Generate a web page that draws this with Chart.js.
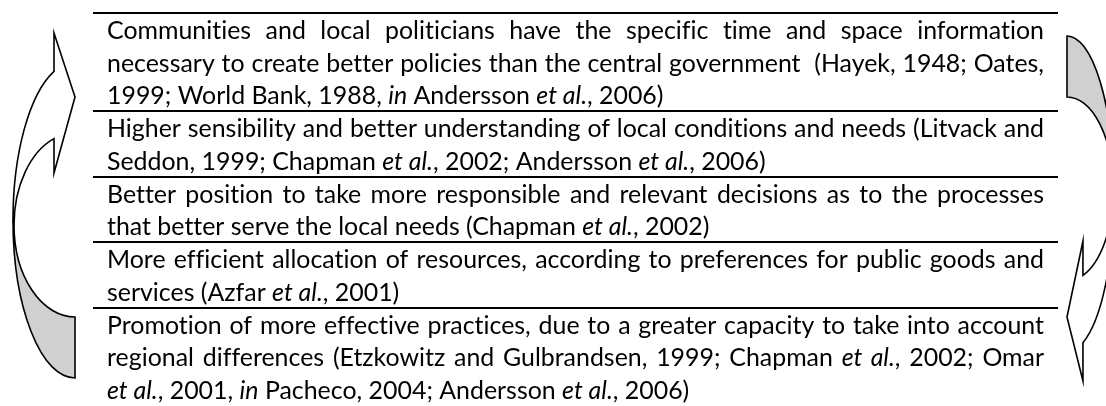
<!DOCTYPE html>
<html>
<head>
<meta charset="utf-8">
<script src="https://cdn.jsdelivr.net/npm/chart.js@4.4.0/dist/chart.umd.min.js"></script>
<style>
  html, body { margin: 0; padding: 0; background: #fff; }
  canvas { display: block; }
</style>
</head>
<body>
<canvas id="decentralisationChart" width="1106" height="406"></canvas>
<script>
// text of each row, one string per printed line; _..._ marks italic
const row1 = [
  'Communities and local politicians have the specific time and space information',
  'necessary to create better policies than the central government  (Hayek, 1948; Oates,',
  '1999; World Bank, 1988, _in_ Andersson _et al._, 2006)'
];
const row2 = [
  'Higher sensibility and better understanding of local conditions and needs (Litvack and',
  'Seddon, 1999; Chapman _et al._, 2002; Andersson _et al._, 2006)'
];
const row3 = [
  'Better position to take more responsible and relevant decisions as to the processes',
  'that better serve the local needs (Chapman _et al._, 2002)'
];
const row4 = [
  'More efficient allocation of resources, according to preferences for public goods and',
  'services (Azfar _et al._, 2001)'
];
const row5 = [
  'Promotion of more effective practices, due to a greater capacity to take into account',
  'regional differences (Etzkowitz and Gulbrandsen, 1999; Chapman _et al._, 2002; Omar',
  '_et al._, 2001, _in_ Pacheco, 2004; Andersson _et al._, 2006)'
];
const rows = [row1, row2, row3, row4, row5];

// first line index of each row (y axis is counted in text lines)
const rowStarts = [];
let acc = 0;
rows.forEach(r => { rowStarts.push(acc); acc += r.length; });
const totalLines = acc;

const FONT_FAMILY = 'Lato, "Open Sans", sans-serif';
let fontSize = 20;

function runsOf(line) {
  return line.split('_').map((t, i) => ({ text: t, italic: i % 2 === 1 })).filter(r => r.text.length);
}
function setFont(ctx, italic) {
  ctx.font = (italic ? 'italic ' : '') + fontSize + 'px ' + FONT_FAMILY;
}
function naturalWidth(ctx, runs) {
  let w = 0;
  runs.forEach(run => { setFont(ctx, run.italic); w += ctx.measureText(run.text).width; });
  return w;
}

const textPlugin = {
  id: 'rowText',
  afterDraw(chart) {
    const ctx = chart.ctx;
    const y = chart.scales.y;
    const area = chart.chartArea;
    const left = area.left + 14;
    const right = area.right - 14;
    const target = right - left;
    ctx.save();
    // no ti / tt / fi ligatures, like the original
    ctx.textRendering = 'optimizeSpeed';
    ctx.letterSpacing = '0.01px';
    // size the type so the longest full line sits with almost normal spacing
    fontSize = 20;
    let widest = 0;
    rows.forEach(lines => lines.slice(0, -1).forEach(l => {
      widest = Math.max(widest, naturalWidth(ctx, runsOf(l)));
    }));
    fontSize = 20 * target * 0.995 / widest;

    ctx.fillStyle = '#000';
    ctx.textBaseline = 'alphabetic';
    rows.forEach((lines, r) => {
      lines.forEach((line, k) => {
        const runs = runsOf(line);
        const natural = naturalWidth(ctx, runs);
        let spaces = 0;
        runs.forEach(run => { spaces += (run.text.match(/ /g) || []).length; });
        const last = k === lines.length - 1;
        let extra = 0;
        if (!last && spaces > 0) extra = (target - natural) / spaces;
        const baseY = y.getPixelForValue(rowStarts[r] + k + 0.79);
        let x = left;
        runs.forEach(run => {
          setFont(ctx, run.italic);
          const sw = ctx.measureText(' ').width;
          const words = run.text.split(' ');
          words.forEach((w, i) => {
            if (w.length) {
              ctx.fillText(w, x, baseY);
              x += ctx.measureText(w).width;
            }
            if (i < words.length - 1) x += sw + extra;
          });
        });
      });
    });
    ctx.restore();
  }
};

// curved arrows beside the rows (shape of the office "curved arrow")
function arrowPath(ctx, part) {
  const ocx = 75, ocy = 220, orx = 62, ory = 158;
  const icx = 75, icy = 225, irx = 61, iry = 92;
  const baseX = 54, tip = [75, 97], headTop = 33, headBot = 173;
  if (part === 'back') {
    ctx.ellipse(ocx, ocy, orx, ory, 0, Math.PI, Math.PI / 2, true);
    ctx.lineTo(icx, icy + iry);
    ctx.ellipse(icx, icy, irx, iry, 0, Math.PI / 2, Math.PI, false);
    ctx.closePath();
  } else {
    const oy = ocy - ory * Math.sqrt(1 - Math.pow((baseX - ocx) / orx, 2));
    const iy = icy - iry * Math.sqrt(1 - Math.pow((baseX - icx) / irx, 2));
    const to = Math.atan2((oy - ocy) / ory, (baseX - ocx) / orx) + 2 * Math.PI;
    const ti = Math.atan2((iy - icy) / iry, (baseX - icx) / irx) + 2 * Math.PI;
    ctx.ellipse(ocx, ocy, orx, ory, 0, Math.PI, to, false);
    ctx.lineTo(baseX, headTop);
    ctx.lineTo(tip[0], tip[1]);
    ctx.lineTo(baseX, headBot);
    ctx.lineTo(baseX, iy);
    ctx.ellipse(icx, icy, irx, iry, 0, ti, Math.PI, true);
    ctx.closePath();
  }
}

function drawArrow(ctx, transform) {
  ['back', 'front'].forEach(part => {
    ctx.save();
    transform(ctx);
    ctx.beginPath();
    arrowPath(ctx, part);
    ctx.restore();
    ctx.fillStyle = part === 'back' ? '#d0d0d0' : '#ffffff';
    ctx.fill();
    ctx.lineWidth = 1.6;
    ctx.strokeStyle = '#000';
    ctx.lineJoin = 'miter';
    ctx.stroke();
  });
}

const arrowPlugin = {
  id: 'curvedArrows',
  afterDraw(chart) {
    const ctx = chart.ctx;
    const area = chart.chartArea;
    const y = chart.scales.y;
    const dy = y.getPixelForValue(0) - 13;
    ctx.save();
    drawArrow(ctx, c => c.translate(area.left - 93, dy));
    drawArrow(ctx, c => { c.translate(area.right + 66, 414 + dy); c.scale(-0.76, -1); });
    ctx.restore();
  }
};

const ctx = document.getElementById('decentralisationChart').getContext('2d');

const config = {
  type: 'scatter',
  data: { datasets: [] },
  options: {
    responsive: false,
    animation: false,
    devicePixelRatio: 1,
    layout: { padding: { left: 93, right: 48, top: 13, bottom: 0 } },
    scales: {
      x: { type: 'linear', display: false, min: 0, max: 1 },
      y: {
        type: 'linear',
        reverse: true,
        min: 0,
        max: totalLines,
        afterBuildTicks: axis => { axis.ticks = rowStarts.map(v => ({ value: v })); },
        ticks: { display: false },
        border: { display: false },
        grid: { color: '#000', lineWidth: 2, drawTicks: false }
      }
    },
    plugins: {
      legend: { display: false },
      tooltip: { enabled: false }
    }
  },
  plugins: [textPlugin, arrowPlugin]
};

const decentralisationChart = new Chart(ctx, config);
</script>
</body>
</html>
